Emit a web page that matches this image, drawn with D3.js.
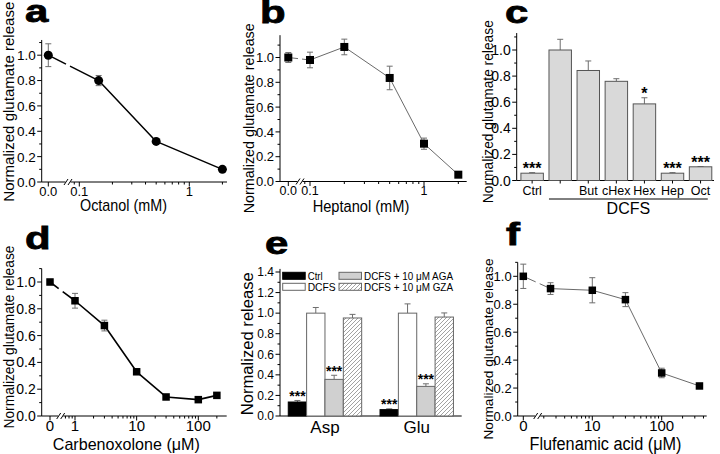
<!DOCTYPE html>
<html><head><meta charset="utf-8">
<script src="https://cdn.jsdelivr.net/npm/d3@7"></script>
<style>
body{margin:0;background:#fff}
svg{display:block}
text{font-family:'Liberation Sans',Arial,Helvetica,sans-serif}
</style>
</head><body>
<script>
// ---------------- DATA ----------------
// a – Octanol
const octanolConc = [0, 0.15, 0.5, 2];
const octanolMean = [1.0, 0.80, 0.32, 0.10];
const octanolErr  = [0.09, 0.04, 0.012, 0.008];
const octanolZeroLabel = "0.0";
// b – Heptanol
const heptanolConc = [0, 0.1, 0.2, 0.5, 1, 2];
const heptanolMean = [1.0, 0.98, 1.085, 0.835, 0.305, 0.055];
const heptanolErr  = [0.04, 0.063, 0.063, 0.095, 0.045, 0.008];
const heptanolZeroLabel = "0.0";
// c – alcohols
const alcoholKeys   = ["Ctrl", "DCFS", "But", "cHex", "Hex", "Hep", "Oct"];
const alcoholLabels = ["Ctrl", "", "But", "cHex", "Hex", "Hep", "Oct"];
const alcoholMean   = [0.056, 1.0, 0.843, 0.76, 0.587, 0.056, 0.105];
const alcoholErr    = [0.004, 0.082, 0.073, 0.02, 0.047, 0.004, 0.002];
const alcoholSig    = ["***", "", "", "", "*", "***", "***"];
const alcoholGroupLabel = "DCFS";
// d – Carbenoxolone
const cbxConc = [0, 1, 3, 10, 30, 100, 200];
const cbxMean = [1.0, 0.86, 0.675, 0.33, 0.142, 0.122, 0.154];
const cbxErr  = [0.02, 0.055, 0.04, 0.012, 0.01, 0.01, 0.012];
const cbxZeroLabel = "0";
// e – Asp / Glu
const aminoAcids = ["Asp", "Glu"];
const conditions = ["Ctrl", "DCFS", "DCFS + 10 μM AGA", "DCFS + 10 μM GZA"];
const aspMean = [0.136, 1.0, 0.356, 0.953];
const aspErr  = [0.015, 0.055, 0.04, 0.035];
const gluMean = [0.062, 1.0, 0.288, 0.962];
const gluErr  = [0.008, 0.09, 0.025, 0.04];
const conditionSig = ["***", "", "***", ""];
// f – Flufenamic acid
const ffaConc = [0, 2.5, 10, 30, 100, 350];
const ffaMean = [1.0, 0.912, 0.90, 0.833, 0.308, 0.215];
const ffaErr  = [0.087, 0.042, 0.09, 0.05, 0.034, 0.017];
const ffaZeroLabel = "0";

const yTitle = "Normalized glutamate release";
const yTitleE = "Normalized release";

// ---------------- HELPERS ----------------
const svg = d3.select("body").append("svg").attr("width", 720).attr("height", 454);
const defs = svg.append("defs");
const hatch = defs.append("pattern").attr("id", "hatch").attr("patternUnits", "userSpaceOnUse")
  .attr("width", 4).attr("height", 4);
hatch.append("rect").attr("width", 4).attr("height", 4).attr("fill", "#fff");
hatch.append("path").attr("d", "M-1,1 l2,-2 M0,4 l4,-4 M3,5 l2,-2")
  .attr("stroke", "#8a8a8a").attr("stroke-width", 0.8);

const fmt1 = d3.format(".1f");

function txt(g, x, y, s, fs, o = {}) {
  const t = g.append("text").attr("x", x).attr("y", y).text(s)
    .attr("font-size", fs).attr("text-anchor", o.anchor || "middle").attr("fill", "#000");
  if (o.weight) t.attr("font-weight", o.weight);
  if (o.len) t.attr("textLength", o.len).attr("lengthAdjust", "spacingAndGlyphs");
  return t;
}
function vtitle(g, x, yc, s, fs, len) {
  g.append("text").attr("transform", `translate(${x},${yc}) rotate(-90)`)
    .attr("text-anchor", "middle").attr("font-size", fs).attr("fill", "#000")
    .attr("textLength", len).attr("lengthAdjust", "spacingAndGlyphs").text(s);
}
function letter(x, y, s) {
  svg.append("text").attr("transform", `translate(${x},${y}) scale(1.35,1)`)
    .attr("font-size", 31).attr("font-weight", "bold").attr("fill", "#000")
    .attr("stroke", "#000").attr("stroke-width", 0.8).text(s);
}
function line(g, x1, y1, x2, y2, c = "#000", w = 1) {
  return g.append("line").attr("x1", x1).attr("y1", y1).attr("x2", x2).attr("y2", y2)
    .attr("stroke", c).attr("stroke-width", w);
}
function yAxis(g, y, x0, yMax, fs) {
  line(g, x0, y(0), x0, y(yMax));
  const vals = d3.range(0, Math.floor(yMax * 10 + 1e-6) + 1).map(i => i / 10);
  vals.forEach((v, i) => {
    const major = i % 2 === 0;
    line(g, x0, y(v), x0 - (major ? 4.5 : 2.5), y(v));
    if (major) txt(g, x0 - 6, y(v) + fs * 0.36, fmt1(v), fs, {anchor: "end"});
  });
}
function errBar(g, x, yLo, yHi, c, both) {
  line(g, x, yLo, x, yHi, c, 1);
  line(g, x - 3, yHi, x + 3, yHi, c, 1);
  if (both) line(g, x - 3, yLo, x + 3, yLo, c, 1);
}

// -------- log-x dose-response panel --------
function logPanel(cfg, conc, mean, err, zeroLabel) {
  const g = svg.append("g");
  const y = d3.scaleLinear().domain([0, 1]).range([cfg.yBottom, cfg.y1]);
  const xLog = d3.scaleLog().domain(cfg.logDom).range(cfg.logRange);
  const xf = v => v === 0 ? cfg.zeroX : xLog(v);
  yAxis(g, y, cfg.x0, cfg.yMax, cfg.yfs);
  const yb = cfg.yBottom, bx = cfg.breakX;
  line(g, cfg.x0, yb, bx - 2.5, yb);
  line(g, bx + 2.5, yb, cfg.xEnd, yb);
  [-2, 2].forEach(dx => line(g, bx + dx - 2, yb + 3, bx + dx + 2, yb - 3));
  line(g, cfg.zeroX, yb, cfg.zeroX, yb + 4.5);
  txt(g, cfg.zeroX, yb + cfg.xLabDy, zeroLabel, cfg.xfs);
  const lo = xLog.invert(bx + 3), hi = xLog.invert(cfg.xEnd);
  const ticks = d3.scaleLog().domain([lo, hi]).ticks();
  ticks.forEach(v => {
    const lg = Math.log10(v);
    const major = Math.abs(lg - Math.round(lg)) < 1e-6;
    line(g, xLog(v), yb, xLog(v), yb + (major ? 4.5 : 2.5));
    if (major) txt(g, xLog(v), yb + cfg.xLabDy, cfg.fmt(v), cfg.xfs);
  });
  const pts = conc.map((c, i) => [xf(c), y(mean[i])]);
  const [p0, p1] = pts;
  const at = x => [x, p0[1] + (p1[1] - p0[1]) * (x - p0[0]) / (p1[0] - p0[0])];
  const lg = d3.line();
  g.append("path").attr("d", lg([p0, at(bx - 2)])).attr("fill", "none")
    .attr("stroke", cfg.lineColor).attr("stroke-width", cfg.lineW);
  g.append("path").attr("d", lg([at(bx + 2)].concat(pts.slice(1)))).attr("fill", "none")
    .attr("stroke", cfg.lineColor).attr("stroke-width", cfg.lineW).attr("stroke-linejoin", "round");
  conc.forEach((c, i) => errBar(g, xf(c), y(mean[i] - err[i]), y(mean[i] + err[i]), "#6e6e6e", true));
  conc.forEach((c, i) => {
    if (cfg.marker === "circle") {
      g.append("circle").attr("cx", xf(c)).attr("cy", y(mean[i])).attr("r", cfg.ms / 2).attr("fill", "#000");
    } else {
      g.append("rect").attr("x", xf(c) - cfg.ms / 2).attr("y", y(mean[i]) - cfg.ms / 2)
        .attr("width", cfg.ms).attr("height", cfg.ms).attr("fill", "#000");
    }
  });
  vtitle(g, cfg.ytX, cfg.ytY, yTitle, cfg.ytFs, cfg.ytLen);
  txt(g, cfg.xtX, cfg.xtY, cfg.xTitle, cfg.xtFs, {len: cfg.xtLen});
}

// ---------------- PANEL a ----------------
logPanel({x0: 41.7, zeroX: 48.3, breakX: 68, logDom: [0.1, 1], logRange: [79.3, 189.3], xEnd: 227,
  yBottom: 182, y1: 55.2, yMax: 1.12, yfs: 13.5, xfs: 13, xLabDy: 14, fmt: v => v < 1 ? "0.1" : "1",
  lineColor: "#000", lineW: 1.5, marker: "circle", ms: 9,
  ytX: 13.5, ytY: 101.7, ytFs: 15, ytLen: 200,
  xTitle: "Octanol (mM)", xtX: 123.5, xtY: 211, xtFs: 17, xtLen: 87},
  octanolConc, octanolMean, octanolErr, octanolZeroLabel);
letter(25, 21.7, "a");

// ---------------- PANEL b ----------------
logPanel({x0: 280, zeroX: 288.3, breakX: 300, logDom: [0.1, 1], logRange: [310, 424], xEnd: 466.7,
  yBottom: 181.5, y1: 57.5, yMax: 1.18, yfs: 13, xfs: 12.5, xLabDy: 13, fmt: v => v < 1 ? "0.1" : "1",
  lineColor: "#6a6a6a", lineW: 1, marker: "square", ms: 8,
  ytX: 253.5, ytY: 118.3, ytFs: 14.5, ytLen: 190,
  xTitle: "Heptanol (mM)", xtX: 361, xtY: 212, xtFs: 16, xtLen: 96.7},
  heptanolConc, heptanolMean, heptanolErr, heptanolZeroLabel);
letter(260, 22.7, "b");

// ---------------- PANEL c ----------------
(function () {
  const g = svg.append("g");
  const x0 = 516.7, xEnd = 714;
  const y = d3.scaleLinear().domain([0, 1]).range([180.5, 50]);
  const x = d3.scaleBand().domain(alcoholKeys).range([x0, 716]).paddingInner(0.2).paddingOuter(0.15);
  yAxis(g, y, x0, 1.13, 14);
  line(g, x0, y(0), xEnd, y(0));
  alcoholKeys.forEach((k, i) => {
    const bx = x(k), bw = x.bandwidth(), cx = bx + bw / 2;
    errBar(g, cx, y(alcoholMean[i]), y(alcoholMean[i] + alcoholErr[i]), "#6e6e6e", false);
    g.append("rect").attr("x", bx).attr("y", y(alcoholMean[i])).attr("width", bw)
      .attr("height", y(0) - y(alcoholMean[i])).attr("fill", "#d9d9d9").attr("stroke", "#555").attr("stroke-width", 1);
    line(g, cx, y(0), cx, y(0) + 3);
    txt(g, cx, 195, alcoholLabels[i], 12.5);
    if (alcoholSig[i]) txt(g, cx, y(alcoholMean[i] + alcoholErr[i]) + 1.5, alcoholSig[i], 16, {weight: "bold"});
  });
  const ux1 = x("DCFS"), ux2 = x("Oct") + x.bandwidth() - 4;
  line(g, ux1, 199, ux2, 199);
  txt(g, (ux1 + ux2) / 2, 214, alcoholGroupLabel, 16);
  vtitle(g, 493, 111.7, yTitle, 14, 183);
})();
letter(505, 23.3, "c");

// ---------------- PANEL d ----------------
logPanel({x0: 41.7, zeroX: 50, breakX: 60.7, logDom: [1, 100], logRange: [75, 198.3], xEnd: 226.7,
  yBottom: 416, y1: 282, yMax: 1.1, yfs: 14, xfs: 15, xLabDy: 14.5, fmt: v => String(v),
  lineColor: "#000", lineW: 1.6, marker: "square", ms: 7.5,
  ytX: 13.5, ytY: 337, ytFs: 14, ytLen: 183,
  xTitle: "Carbenoxolone (μM)", xtX: 126.3, xtY: 450, xtFs: 17, xtLen: 147},
  cbxConc, cbxMean, cbxErr, cbxZeroLabel);
letter(25, 249, "d");

// ---------------- PANEL e ----------------
(function () {
  const g = svg.append("g");
  const x0 = 280, xEnd = 461.7;
  const y = d3.scaleLinear().domain([0, 1.4]).range([416, 272]);
  const xg = d3.scaleBand().domain(aminoAcids).range([x0, xEnd]).paddingInner(0.2).paddingOuter(0.09);
  const xc = d3.scaleBand().domain(conditions).range([0, xg.bandwidth()]);
  const fills = ["#000", "#fff", "#d0d0d0", "url(#hatch)"];
  const legendLen = [15, 28, 89, 89];
  yAxis(g, y, x0, 1.43, 12);
  line(g, x0, y(0), xEnd, y(0));
  const means = [aspMean, gluMean], errs = [aspErr, gluErr];
  aminoAcids.forEach((aa, gi) => {
    conditions.forEach((c, ci) => {
      const bx = xg(aa) + xc(c), bw = xc.bandwidth(), cx = bx + bw / 2;
      const m = means[gi][ci], e = errs[gi][ci];
      errBar(g, cx, y(m), y(m + e), "#6e6e6e", false);
      g.append("rect").attr("x", bx).attr("y", y(m)).attr("width", bw).attr("height", y(0) - y(m))
        .attr("fill", fills[ci]).attr("stroke", ci === 0 ? "#000" : "#666").attr("stroke-width", 1);
      if (conditionSig[ci]) txt(g, cx, y(m + e) + 0.5, conditionSig[ci], 14, {weight: "bold"});
    });
    txt(g, xg(aa) + xg.bandwidth() / 2, 433, aa, 17);
  });
  const lx = [282.7, 339], ly = [272.3, 283.3];
  conditions.forEach((c, ci) => {
    const col = ci < 2 ? 0 : 1, row = ci % 2;
    g.append("rect").attr("x", lx[col]).attr("y", ly[row]).attr("width", 22.5).attr("height", 7)
      .attr("fill", fills[ci]).attr("stroke", ci === 0 ? "#000" : "#666").attr("stroke-width", 1);
    txt(g, lx[col] + 25, ly[row] + 7.6, c, 10.5, {anchor: "start", len: legendLen[ci]});
  });
  vtitle(g, 253, 343.7, yTitleE, 16, 143);
})();
letter(265, 253.7, "e");

// ---------------- PANEL f ----------------
logPanel({x0: 517.7, zeroX: 523.3, breakX: 537.7, logDom: [10, 100], logRange: [592.3, 661.7], xEnd: 706.7,
  yBottom: 416, y1: 276.3, yMax: 1.1, yfs: 13, xfs: 15, xLabDy: 14.5, fmt: v => String(v),
  lineColor: "#6a6a6a", lineW: 1, marker: "square", ms: 7.5,
  ytX: 493, ytY: 349, ytFs: 13.5, ytLen: 181,
  xTitle: "Flufenamic acid (μM)", xtX: 605.5, xtY: 450, xtFs: 18, xtLen: 152},
  ffaConc, ffaMean, ffaErr, ffaZeroLabel);
letter(506, 245.3, "f");
</script>
</body></html>
